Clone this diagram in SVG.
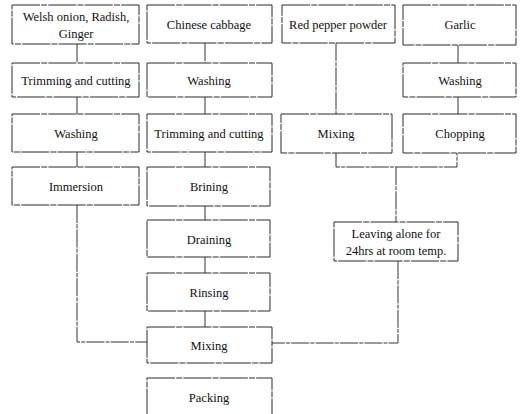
<svg xmlns="http://www.w3.org/2000/svg" width="522" height="414" viewBox="0 0 522 414">
<style>
.b{fill:#fff;stroke:#2a2a2a;stroke-width:1;stroke-dasharray:28 1.2 6 1.2}
.t{font-family:"Liberation Serif","Times New Roman",serif;font-size:12.5px;fill:#111;text-anchor:middle}
.c{fill:none;stroke:#333;stroke-width:1;stroke-dasharray:18 1.2 4 1.2}
</style>
<rect width="522" height="414" fill="#fff"/>
<g id="connectors">
<path class="c" d="M77 44V63M77 97V114M77 152V167M77 205V342H147"/>
<path class="c" d="M205 43V63M205 97V114M205 152V167M205 206V220M205 257V273M205 311V327"/>
<path class="c" d="M336 43V114M458 45V63M458 97V114"/>
<path class="c" d="M336 153V167H457V153M396 167V222M398 261V343H272"/>
</g>
<g id="n1"><rect class="b" x="12" y="5" width="127" height="39"/><text class="t" x="76" y="21">Welsh onion, Radish,</text><text class="t" x="76" y="38">Ginger</text></g>
<g id="n2"><rect class="b" x="12" y="63" width="127" height="34"/><text class="t" x="76" y="85">Trimming and cutting</text></g>
<g id="n3"><rect class="b" x="12" y="114" width="127" height="38"/><text class="t" x="76" y="138">Washing</text></g>
<g id="n4"><rect class="b" x="12" y="167" width="127" height="38"/><text class="t" x="76" y="191">Immersion</text></g>
<g id="n5"><rect class="b" x="147" y="5" width="125" height="38"/><text class="t" x="209" y="29">Chinese cabbage</text></g>
<g id="n6"><rect class="b" x="147" y="63" width="125" height="34"/><text class="t" x="209" y="85">Washing</text></g>
<g id="n7"><rect class="b" x="147" y="114" width="125" height="38"/><text class="t" x="209" y="138">Trimming and cutting</text></g>
<g id="n8"><rect class="b" x="147" y="167" width="123" height="39"/><text class="t" x="209" y="191">Brining</text></g>
<g id="n9"><rect class="b" x="147" y="220" width="123" height="37"/><text class="t" x="209" y="244">Draining</text></g>
<g id="n10"><rect class="b" x="147" y="273" width="123" height="38"/><text class="t" x="209" y="297">Rinsing</text></g>
<g id="n11"><rect class="b" x="147" y="327" width="125" height="36"/><text class="t" x="209" y="350">Mixing</text></g>
<g id="n12"><rect class="b" x="147" y="378" width="125" height="40"/><text class="t" x="209" y="402">Packing</text></g>
<g id="n13"><rect class="b" x="282" y="5" width="113" height="38"/><text class="t" x="338" y="29">Red pepper powder</text></g>
<g id="n14"><rect class="b" x="281" y="114" width="111" height="39"/><text class="t" x="336" y="138">Mixing</text></g>
<g id="n15"><rect class="b" x="403" y="5" width="113" height="40"/><text class="t" x="460" y="29">Garlic</text></g>
<g id="n16"><rect class="b" x="403" y="63" width="113" height="34"/><text class="t" x="460" y="85">Washing</text></g>
<g id="n17"><rect class="b" x="403" y="114" width="113" height="39"/><text class="t" x="460" y="138">Chopping</text></g>
<g id="n18"><rect class="b" x="334" y="222" width="124" height="39"/><text class="t" x="396" y="238">Leaving alone for</text><text class="t" x="396" y="255">24hrs at room temp.</text></g>
</svg>
